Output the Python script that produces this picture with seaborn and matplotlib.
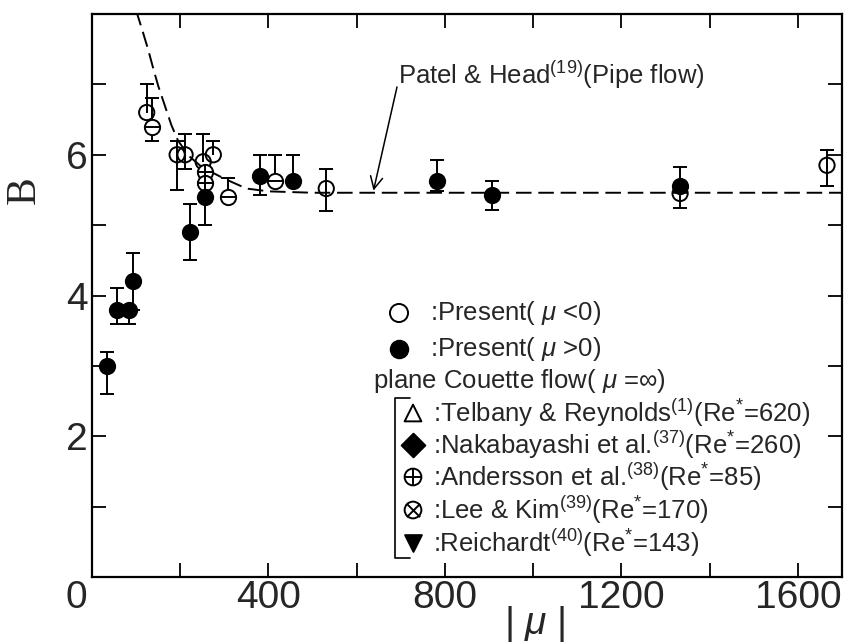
import matplotlib
matplotlib.use("Agg")
import matplotlib.pyplot as plt
from matplotlib.ticker import FixedLocator, FixedFormatter, NullFormatter
import pandas as pd
import seaborn as sns

# ---------------------------------------------------------------- data
# Present results, mu < 0 (open circles)
mu_neg = [124, 193, 211, 252, 275, 531, 1333, 1666]
B_neg = [6.6, 6.0, 6.0, 5.9, 6.0, 5.52, 5.45, 5.85]
B_neg_up = [0.4, 0.2, 0.3, 0.4, 0.2, 0.28, 0.0, 0.22]
B_neg_dn = [0.0, 0.5, 0.2, 0.0, 0.0, 0.32, 0.2, 0.3]

# Present results, mu < 0, drawn with a bar through the circle
mu_bar = [135, 309, 415]
B_bar = [6.4, 5.4, 5.62]
B_bar_up = [0.4, 0.27, 0.38]
B_bar_dn = [0.2, 0.0, 0.0]

# Present results, mu > 0 (filled circles)
mu_pos = [35, 56, 85, 94, 222, 256, 380, 456, 781, 906, 1333]
B_pos = [3.0, 3.8, 3.8, 4.2, 4.9, 5.4, 5.7, 5.62, 5.62, 5.43, 5.55]
B_pos_up = [0.2, 0.3, 0.0, 0.4, 0.4, 0.4, 0.3, 0.38, 0.3, 0.2, 0.28]
B_pos_dn = [0.4, 0.2, 0.2, 0.4, 0.4, 0.4, 0.27, 0.0, 0.13, 0.22, 0.0]

# Andersson et al. (crossed circles)
mu_plus = [256, 256]
B_plus = [5.75, 5.6]

# Patel & Head, pipe flow
curve_mu = [100, 115, 127, 140, 150, 165, 180, 195, 220, 250, 300, 350,
            400, 500, 700, 1000, 1700]
curve_B = [8.05, 7.75, 7.5, 7.2, 6.98, 6.7, 6.42, 6.2, 5.98, 5.82, 5.66,
           5.52, 5.48, 5.46, 5.46, 5.46, 5.46]

x_major = [400, 800, 1200, 1600]
x_major_labels = ["400", "800", "1200", "1600"]
x_minor = [200, 600, 1000, 1400]
y_major = [2, 4, 6]
y_major_labels = ["2", "4", "6"]
y_minor = [1, 3, 5, 7]

# ---------------------------------------------------------------- style
sns.set_theme(style="ticks")
plt.rcParams["font.family"] = ["Liberation Sans", "DejaVu Sans"]
plt.rcParams["mathtext.fontset"] = "custom"
plt.rcParams["mathtext.rm"] = "Liberation Sans"
plt.rcParams["mathtext.it"] = "Liberation Sans:italic"
plt.rcParams["mathtext.sf"] = "Liberation Sans"

W, H = 845, 643
fig = plt.figure(figsize=(W / 100, H / 100), dpi=100)
L, R, T, Bt = 92, 842, 14, 577
ax = fig.add_axes([L / W, 1 - Bt / H, (R - L) / W, (Bt - T) / H])


def ax_frac(px, py):
    """Pixel position of the figure -> axes fraction."""
    return (px - L) / (R - L), (Bt - py) / (Bt - T)


LW = 1.4
MS = 11
TICK_FS = 28


def error_bars(mu, b, up, dn):
    lo = [bi - d for bi, d in zip(b, dn)]
    hi = [bi + u for bi, u in zip(b, up)]
    ax.vlines(mu, lo, hi, color="black", lw=LW, zorder=2)
    caps_x = [m for m, u in zip(mu, up) if u > 0] + \
             [m for m, d in zip(mu, dn) if d > 0]
    caps_y = [h for h, u in zip(hi, up) if u > 0] + \
             [l for l, d in zip(lo, dn) if d > 0]
    ax.scatter(caps_x, caps_y, marker="_", s=95, color="black",
               linewidths=LW, zorder=2)


# Patel & Head curve
curve = pd.DataFrame({"mu": curve_mu, "B": curve_B})
sns.lineplot(data=curve, x="mu", y="B", ax=ax, color="black", lw=LW,
             dashes=False, zorder=1)
ax.lines[-1].set_dashes((8, 3.5))

# error bars
error_bars(mu_neg, B_neg, B_neg_up, B_neg_dn)
error_bars(mu_bar, B_bar, B_bar_up, B_bar_dn)
error_bars(mu_pos, B_pos, B_pos_up, B_pos_dn)

neg = pd.DataFrame({"mu": mu_neg, "B": B_neg})
bar = pd.DataFrame({"mu": mu_bar, "B": B_bar})
pos = pd.DataFrame({"mu": mu_pos, "B": B_pos})
plus = pd.DataFrame({"mu": mu_plus, "B": B_plus})

circle_kw = dict(s=MS ** 2, linewidth=LW, edgecolor="black", zorder=3,
                 legend=False)
sns.scatterplot(data=neg, x="mu", y="B", ax=ax, marker="o",
                facecolor="none", **circle_kw)
sns.scatterplot(data=bar, x="mu", y="B", ax=ax, marker="o",
                facecolor="white", **circle_kw)
ax.scatter(bar["mu"], bar["B"], marker="_", s=MS ** 2, color="black",
           linewidths=LW, zorder=4)
sns.scatterplot(data=plus, x="mu", y="B", ax=ax, marker="o",
                facecolor="white", **circle_kw)
ax.scatter(plus["mu"], plus["B"], marker="+", s=MS ** 2, color="black",
           linewidths=LW, zorder=4)
sns.scatterplot(data=pos, x="mu", y="B", ax=ax, marker="o",
                color="black", **circle_kw)

# ---------------------------------------------------------------- axes
ax.set_xlim(0, 1700)
ax.set_ylim(0, 8)
ax.xaxis.set_major_locator(FixedLocator(x_major))
ax.xaxis.set_major_formatter(FixedFormatter(x_major_labels))
ax.xaxis.set_minor_locator(FixedLocator(x_minor))
ax.xaxis.set_minor_formatter(NullFormatter())
ax.yaxis.set_major_locator(FixedLocator(y_major))
ax.yaxis.set_major_formatter(FixedFormatter(y_major_labels))
ax.yaxis.set_minor_locator(FixedLocator(y_minor))
ax.yaxis.set_minor_formatter(NullFormatter())
for which in ("major", "minor"):
    ax.tick_params(axis="both", which=which, direction="in", length=10,
                   width=1.3, top=True, right=True, color="black")
ax.tick_params(axis="x", which="major", labelsize=TICK_FS, pad=2)
ax.tick_params(axis="y", which="major", labelsize=TICK_FS, pad=3)
for sp in ax.spines.values():
    sp.set_linewidth(1.6)
    sp.set_color("black")
ax.set_xlabel("")
ax.set_ylabel("")

fig.text(76 / W, 1 - 598 / H, "0", fontsize=TICK_FS, ha="center",
         va="center")
fig.text(24 / W, 1 - 190 / H, "B", fontsize=30, family="Liberation Serif",
         rotation=90, ha="center", va="center")
fig.text(535 / W, 1 - 624 / H, r"| $\mu$ |", fontsize=TICK_FS, ha="center",
         va="center")

# ---------------------------------------------------------------- labels
FS = 18.5
ax.text(*ax_frac(398, 75), r"Patel & Head$^{(19)}$(Pipe flow)",
        transform=ax.transAxes, fontsize=FS, ha="left", va="center")
ax.annotate("", xy=(638, 5.49), xycoords="data",
            xytext=ax_frac(397, 87), textcoords="axes fraction",
            arrowprops=dict(arrowstyle="->", lw=1.1, color="black",
                            mutation_scale=22, shrinkA=0, shrinkB=0))

# legend, drawn by hand
tx = 430
ax.scatter(*ax_frac(399, 313), transform=ax.transAxes, s=MS ** 2 * 1.4,
           marker="o", facecolor="none", edgecolor="black", linewidths=LW)
ax.text(*ax_frac(tx, 313), r":Present( $\mu$ <0)", transform=ax.transAxes,
        fontsize=FS, va="center")
ax.scatter(*ax_frac(399, 349), transform=ax.transAxes, s=MS ** 2 * 1.4,
           marker="o", color="black")
ax.text(*ax_frac(tx, 349), r":Present( $\mu$ >0)", transform=ax.transAxes,
        fontsize=FS, va="center")
ax.text(*ax_frac(373, 381), r"plane Couette flow( $\mu$ =$\infty$)",
        transform=ax.transAxes, fontsize=FS, va="center")

# bracket around the plane Couette entries
bx0, by0 = ax_frac(395, 398)
bx1, by1 = ax_frac(410, 558)
ax.plot([bx1, bx0, bx0, bx1], [by0, by0, by1, by1], transform=ax.transAxes,
        color="black", lw=1.2)

couette_rows = [
    (413, "^", dict(facecolor="none", edgecolor="black"),
     r":Telbany & Reynolds$^{(1)}$(Re$^{*}$=620)"),
    (445, "D", dict(color="black"),
     r":Nakabayashi et al.$^{(37)}$(Re$^{*}$=260)"),
    (477, "o", dict(facecolor="none", edgecolor="black"),
     r":Andersson et al.$^{(38)}$(Re$^{*}$=85)"),
    (510, "o", dict(facecolor="none", edgecolor="black"),
     r":Lee & Kim$^{(39)}$(Re$^{*}$=170)"),
    (543, "v", dict(color="black"),
     r":Reichardt$^{(40)}$(Re$^{*}$=143)"),
]
for i, (py, mk, kw, label) in enumerate(couette_rows):
    mx, my = ax_frac(413, py)
    ax.scatter(mx, my, transform=ax.transAxes, s=MS ** 2 * 1.2, marker=mk,
               linewidths=LW, **kw)
    if i == 2:
        ax.scatter(mx, my, transform=ax.transAxes, s=MS ** 2 * 1.2,
                   marker="+", color="black", linewidths=LW)
    if i == 3:
        ax.scatter(mx, my, transform=ax.transAxes, s=MS ** 2 * 0.75,
                   marker="x", color="black", linewidths=LW)
    ax.text(*ax_frac(433, py), label, transform=ax.transAxes, fontsize=FS,
            va="center")

fig.savefig("out.png", dpi=100)
